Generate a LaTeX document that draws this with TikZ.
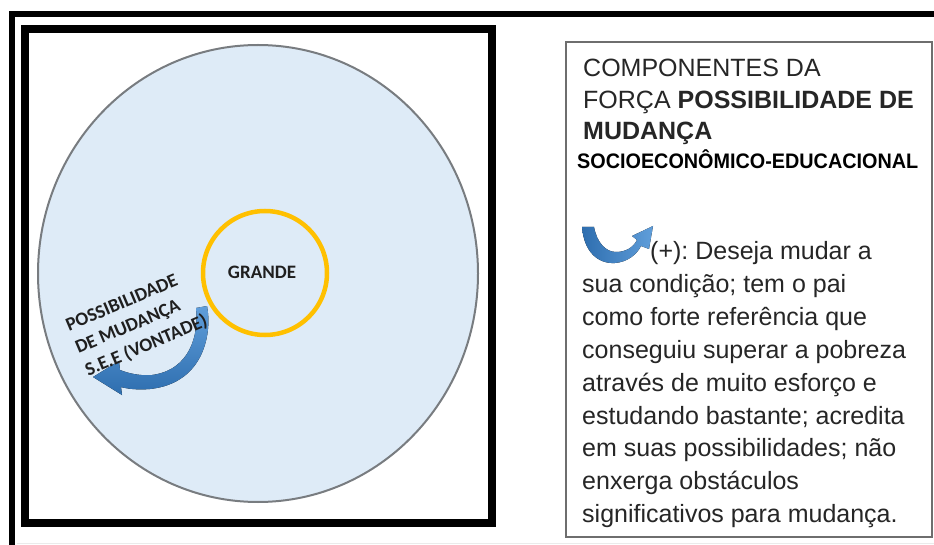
\documentclass[tikz,border=0pt]{standalone}
\usepackage{fontspec}
\setmainfont{Liberation Sans}
\newfontfamily\calib{Carlito}
\usetikzlibrary{shapes.geometric}
\definecolor{lightblue}{RGB}{222,235,247}
\definecolor{edgegray}{RGB}{120,124,128}
\definecolor{gold}{RGB}{255,192,0}
\definecolor{boxgray}{RGB}{110,110,110}
\definecolor{blueD}{RGB}{46,110,175}
\definecolor{blueL}{RGB}{96,158,218}
\definecolor{txt}{RGB}{38,38,38}
\tikzset{
  bodyline/.style={anchor=base west, inner sep=0pt, text=txt, font=\frenchspacing\fontsize{25}{30}\selectfont},
  calibtext/.style={text=black!88, font=\calib\bfseries\fontsize{19}{24.4}\selectfont, inner sep=0pt},
}
\begin{document}
\begin{tikzpicture}[x=1pt,y=-1pt]
\useasboundingbox (0,0) rectangle (934,545);
\fill[white] (0,0) rectangle (934,545);
% outer open frame
\draw[line width=6pt] (940,14) -- (12,14) -- (12,550);
\draw[black!8, line width=1pt] (17,543.5) -- (940,543.5);
% inner frame
\node[draw=black, line width=8pt, minimum width=467pt, minimum height=493pt, inner sep=0pt] (frame) at (258.5,276) {};
% big circle
\node[ellipse, draw=edgegray, fill=lightblue, line width=2pt, minimum width=440pt, minimum height=457pt, inner sep=0pt] (world) at (258,273.5) {};
% orange ring
\node[circle, draw=gold, line width=4.5pt, minimum size=124pt, inner sep=0pt] (ring) at (265,273) {};
\node[calibtext] (grande) at (262,272) {GRANDE};
% curved arrow (left)
\fill[shading=axis, top color=blueL, bottom color=blueD]
  (207,306) .. controls (212,330) and (206,383) .. (150,389)
  .. controls (138,390) and (128,389) .. (121,387)
  -- (122,395) -- (93,377) -- (119,361) -- (120,370)
  .. controls (130,374) and (142,376) .. (152,375)
  .. controls (190,370) and (199,335) .. (196,308) -- cycle;
\node[calibtext, rotate=23, align=left] (poss) at (137,324) {POSSIBILIDADE\\DE MUDANÇA\\S.E.E (VONTADE)};
% info box
\node[draw=boxgray, line width=2pt, minimum width=366pt, minimum height=495pt, inner sep=0pt] (info) at (749,289.5) {};
\node[bodyline] (t1) at (583,77) {COMPONENTES DA};
\node[bodyline] (t2) at (583,108.5) {FORÇA \textbf{POSSIBILIDADE DE}};
\node[bodyline] (t3) at (583,140) {\textbf{MUDANÇA}};
\node[bodyline, font=\bfseries\fontsize{21}{24}\selectfont, text=black, xscale=0.943] (t4) at (577,169) {SOCIOECONÔMICO-EDUCACIONAL};
% small U arrow icon
\fill[left color=blueD, right color=blueL]
  (582,227) .. controls (584,252) and (598,264) .. (615,263)
  .. controls (628,262) and (637,254) .. (641,246)
  -- (649,249) -- (653,226) -- (632,236) -- (637,240)
  .. controls (633,248) and (625,252) .. (616,252)
  .. controls (606,252) and (597,243) .. (594,227) -- cycle;
\node[bodyline] (b1) at (650,260) {(+): Deseja mudar a};
\node[bodyline] (b2) at (582,292.8) {sua condição; tem o pai};
\node[bodyline] (b3) at (582,325.6) {como forte referência que};
\node[bodyline] (b4) at (582,358.4) {conseguiu superar a pobreza};
\node[bodyline] (b5) at (582,391.2) {através de muito esforço e};
\node[bodyline] (b6) at (582,424) {estudando bastante; acredita};
\node[bodyline] (b7) at (582,456.8) {em suas possibilidades; não};
\node[bodyline] (b8) at (582,489.6) {enxerga obstáculos};
\node[bodyline] (b9) at (582,522.4) {significativos para mudança.};
\end{tikzpicture}
\end{document}
